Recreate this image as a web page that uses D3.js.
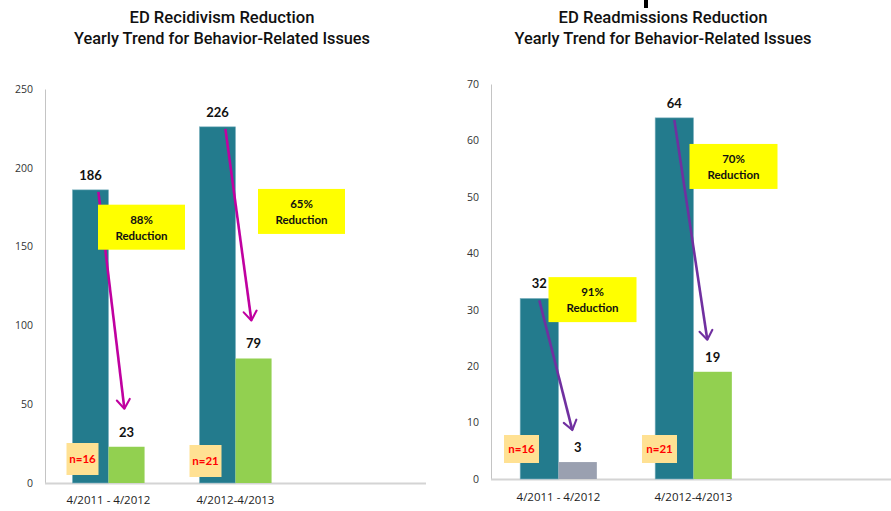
<!DOCTYPE html>
<html>
<head>
<meta charset="utf-8">
<script src="https://cdn.jsdelivr.net/npm/d3@7"></script>
<style>
  html, body { margin: 0; padding: 0; background: #fff; }
  svg { display: block; }
  .title { font-family: Roboto, "Liberation Sans", sans-serif; font-weight: 500; font-size: 17px; fill: #111; }
  .tick text { font-family: "Open Sans", "DejaVu Sans", sans-serif; font-size: 10.5px; fill: #333; }
  .cat { font-family: "Open Sans", "DejaVu Sans", sans-serif; font-size: 11.5px; fill: #222; }
  .val { font-family: Lato, "Open Sans", sans-serif; font-weight: bold; font-size: 13px; fill: #111; }
  .red { font-family: Lato, "Open Sans", sans-serif; font-weight: bold; font-size: 11.5px; fill: #ff0000; }
  .box { font-family: Lato, "Open Sans", sans-serif; font-weight: bold; font-size: 11.5px; fill: #111; }
</style>
</head>
<body>
<svg id="chart" width="891" height="511"></svg>
<script>
// Periods on the x axis (a third, empty slot keeps the original spacing)
const periods = ["4/2011 - 4/2012", "4/2012-4/2013", ""];

// ED recidivism: visits before vs. after the program
const recidBefore = [186, 226];
const recidAfter = [23, 79];
const recidTicks = [0, 50, 100, 150, 200, 250];

// ED readmissions: before vs. after
const readmBefore = [32, 64];
const readmAfter = [3, 19];
const readmTicks = [0, 10, 20, 30, 40, 50, 60, 70];

// Patients in each cohort
const cohortSize = [16, 21];

// Where each reduction call-out sits, in data units above the baseline
const recidBoxLevel = [162, 172];
const readmBoxLevel = [31.7, 55.3];

const colors = {
  before: "#237b8d",
  after: "#92d050",
  afterSmall: "#9aa0b0",
  callout: "#ffff00",
  cohort: "#ffe193"
};

const svg = d3.select("#chart");

// Open chevron arrowheads for the reduction arrows
const defs = svg.append("defs");
function addArrowMarker(id, color) {
  defs.append("marker")
    .attr("id", id)
    .attr("viewBox", "-10 -8 12 16")
    .attr("refX", 0).attr("refY", 0)
    .attr("markerWidth", 6).attr("markerHeight", 8)
    .attr("markerUnits", "strokeWidth")
    .attr("orient", "auto")
    .append("path")
    .attr("d", "M-7,-5 L0,0 L-7,5")
    .attr("fill", "none")
    .attr("stroke", color)
    .attr("stroke-width", 1.6)
    .attr("stroke-linecap", "round")
    .attr("stroke-linejoin", "round");
}
addArrowMarker("arrow-magenta", "#c000a0");
addArrowMarker("arrow-purple", "#7030a0");

function drawPanel(cfg) {
  const g = svg.append("g");

  const x = d3.scaleBand().domain(periods).range([cfg.x0, cfg.x1]).padding(0);
  const y = d3.scaleLinear().domain([0, cfg.yMax]).range([cfg.yBottom, cfg.yTop]);
  const bw = x.bandwidth() * 0.284;
  const center = i => x(periods[i]) + x.bandwidth() / 2;

  // Two-line condensed title
  const t = g.append("text").attr("class", "title").attr("text-anchor", "middle");
  cfg.title.forEach((line, k) => {
    t.append("tspan")
      .attr("x", cfg.titleX).attr("y", 23 + k * 21)
      .attr("textLength", cfg.titleLen[k])
      .attr("lengthAdjust", "spacingAndGlyphs")
      .text(line);
  });

  // Y axis: labels only plus a light vertical rule
  const yAxis = d3.axisLeft(y).tickValues(cfg.ticks).tickSize(0).tickPadding(12);
  const ya = g.append("g").attr("transform", `translate(${cfg.x0},0)`).call(yAxis);
  ya.select(".domain").attr("stroke", "#c4c4c4").attr("stroke-width", 1);

  // Baseline
  g.append("line")
    .attr("x1", cfg.x0).attr("x2", cfg.baseEnd)
    .attr("y1", y(0) + 0.5).attr("y2", y(0) + 0.5)
    .attr("stroke", "#d4d4d4").attr("stroke-width", 2);

  // Category labels
  g.selectAll("text.cat").data(periods.slice(0, 2)).join("text")
    .attr("class", "cat").attr("text-anchor", "middle")
    .attr("x", (d, i) => center(i))
    .attr("y", cfg.catY)
    .text(d => d);

  // Before bars
  g.selectAll("rect.before").data(cfg.before).join("rect")
    .attr("class", "before")
    .attr("x", (d, i) => center(i) - bw)
    .attr("y", d => y(d))
    .attr("width", bw)
    .attr("height", d => y(0) - y(d))
    .attr("fill", colors.before)
    .attr("stroke", "#7fb3c1").attr("stroke-width", 0.6);

  // After bars
  g.selectAll("rect.after").data(cfg.after).join("rect")
    .attr("class", "after")
    .attr("x", (d, i) => center(i))
    .attr("y", d => y(d))
    .attr("width", bw)
    .attr("height", d => y(0) - y(d))
    .attr("fill", (d, i) => cfg.afterColors[i]);

  // Value labels
  g.selectAll("text.vb").data(cfg.before).join("text")
    .attr("class", "val").attr("text-anchor", "middle")
    .attr("x", (d, i) => center(i) - bw / 2)
    .attr("y", d => y(d) - 10)
    .text(d => d);
  g.selectAll("text.va").data(cfg.after).join("text")
    .attr("class", "val").attr("text-anchor", "middle")
    .attr("x", (d, i) => center(i) + bw / 2)
    .attr("y", d => y(d) - 10)
    .text(d => d);

  // Reduction arrows from the top of the "before" bar down toward the "after" bar
  g.selectAll("line.arrow").data(cfg.before).join("line")
    .attr("class", "arrow")
    .attr("x1", (d, i) => center(i) - bw + bw * cfg.arrowStart)
    .attr("y1", d => y(d) + 2)
    .attr("x2", (d, i) => center(i) + bw * cfg.arrowEnd)
    .attr("y2", (d, i) => y(cfg.after[i]) - cfg.arrowGap)
    .attr("stroke", cfg.arrowColor)
    .attr("stroke-width", 2.6)
    .attr("marker-end", `url(#${cfg.arrowMarker})`);

  // Reduction call-outs
  const boxes = g.selectAll("g.callout").data(cfg.before).join("g")
    .attr("class", "callout")
    .attr("transform", (d, i) =>
      `translate(${center(i) + cfg.boxDx[i]},${y(cfg.boxLevel[i])})`);
  boxes.append("rect")
    .attr("x", -cfg.boxW / 2).attr("y", -23)
    .attr("width", cfg.boxW).attr("height", 45)
    .attr("fill", colors.callout);
  boxes.append("text").attr("class", "box").attr("text-anchor", "middle")
    .attr("y", -4)
    .text((d, i) => `${Math.round((d - cfg.after[i]) / d * 100)}%`);
  boxes.append("text").attr("class", "box").attr("text-anchor", "middle")
    .attr("y", 12)
    .text("Reduction");

  // Cohort size tags
  const tags = g.selectAll("g.cohort").data(cohortSize).join("g")
    .attr("class", "cohort")
    .attr("transform", (d, i) => `translate(${center(i) + cfg.tagDx[i]},${cfg.tagY[i]})`);
  tags.append("rect")
    .attr("x", -cfg.tagW / 2).attr("y", -cfg.tagH / 2)
    .attr("width", cfg.tagW).attr("height", cfg.tagH)
    .attr("fill", colors.cohort);
  tags.append("text").attr("class", "red").attr("text-anchor", "middle")
    .attr("y", 4)
    .text(d => `n=${d}`);
}

drawPanel({
  title: ["ED Recidivism Reduction", "Yearly Trend for Behavior-Related Issues"],
  titleX: 222, titleLen: [185, 296],
  x0: 45, x1: 426, baseEnd: 426,
  yTop: 89, yBottom: 483, yMax: 250,
  ticks: recidTicks,
  catY: 504,
  before: recidBefore,
  after: recidAfter,
  afterColors: [colors.after, colors.after],
  arrowColor: "#c000a0", arrowMarker: "arrow-magenta",
  arrowStart: 0.72, arrowEnd: 0.44, arrowGap: 38,
  boxLevel: recidBoxLevel, boxDx: [33, 66], boxW: 87,
  tagDx: [-26, -30], tagY: [459, 461], tagW: 32, tagH: 32
});

drawPanel({
  title: ["ED Readmissions Reduction", "Yearly Trend for Behavior-Related Issues"],
  titleX: 663, titleLen: [209, 297],
  x0: 491, x1: 896, baseEnd: 891,
  yTop: 84, yBottom: 479, yMax: 70,
  ticks: readmTicks,
  catY: 501,
  before: readmBefore,
  after: readmAfter,
  afterColors: [colors.afterSmall, colors.after],
  arrowColor: "#7030a0", arrowMarker: "arrow-purple",
  arrowStart: 0.5, arrowEnd: 0.36, arrowGap: 32,
  boxLevel: readmBoxLevel, boxDx: [34, 40], boxW: 88,
  tagDx: [-37, -34], tagY: [449, 449], tagW: 35, tagH: 28
});

// Clipped descender of a heading that sits above the frame
svg.append("rect").attr("x", 644).attr("y", 0).attr("width", 4).attr("height", 8).attr("fill", "#000");
</script>
</body>
</html>
